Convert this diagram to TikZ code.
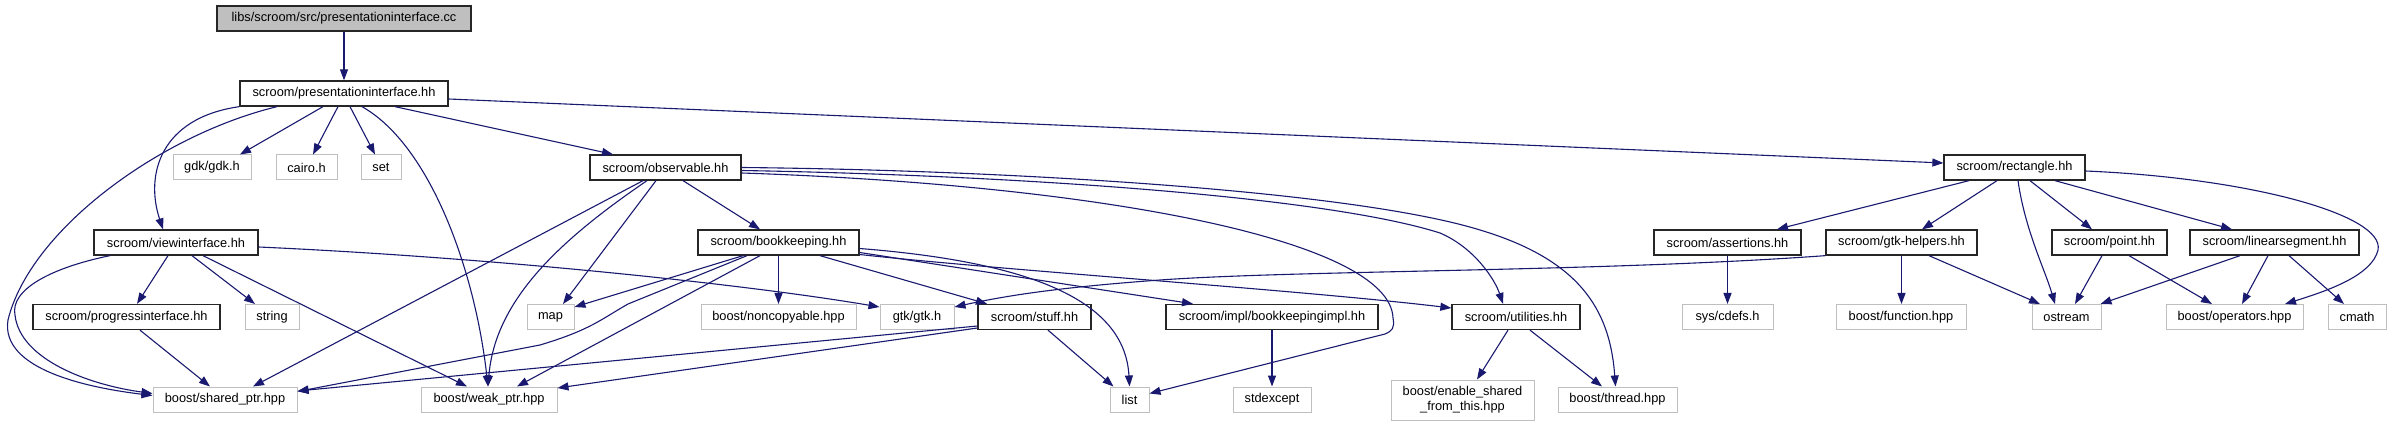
\documentclass[tikz,border=0pt]{standalone}
\usepackage{fontspec}
\setmainfont{Liberation Sans}
\usetikzlibrary{arrows.meta}
\definecolor{edgecol}{HTML}{191970}
\definecolor{extgray}{HTML}{BFBFBF}
\tikzset{
  box/.style={rectangle, inner sep=0pt, minimum height=25pt, align=center, font=\fontsize{12.8}{14.5}\selectfont},
  proj/.style={box, draw=black!85, line width=1.3pt},
  ext/.style={box, draw=extgray, line width=1pt},
  rootbox/.style={proj, fill=extgray},
  dep/.style={draw=edgecol, line width=1.1pt, -{Triangle[length=11pt,width=8pt]}}
}
\begin{document}
\begin{tikzpicture}[x=1pt,y=-1pt]
\useasboundingbox[fill=white] (0,0) rectangle (2392,427);
% row 0
\node[rootbox, minimum width=254pt] (root) at (344,18.5) {libs/scroom/src/presentationinterface.cc};
% row 1
\node[proj, minimum width=208pt] (pres) at (344,93.5) {scroom/presentationinterface.hh};
% row 2
\node[ext, minimum width=78pt] (gdk) at (212,167.5) {gdk/gdk.h};
\node[ext, minimum width=61pt] (cairo) at (306.5,167.5) {cairo.h};
\node[ext, minimum width=40pt] (set) at (381,167.5) {set};
\node[proj, minimum width=151pt] (obs) at (665.5,167.5) {scroom/observable.hh};
\node[proj, minimum width=141pt] (rect) at (2014.5,167.5) {scroom/rectangle.hh};
% row 3
\node[proj, minimum width=164pt] (view) at (176,242.5) {scroom/viewinterface.hh};
\node[proj, minimum width=161pt] (book) at (778.5,242.5) {scroom/bookkeeping.hh};
\node[proj, minimum width=147pt] (assert) at (1727.5,242.5) {scroom/assertions.hh};
\node[proj, minimum width=151pt] (gtkh) at (1901.5,242.5) {scroom/gtk-helpers.hh};
\node[proj, minimum width=115pt] (point) at (2109.5,242.5) {scroom/point.hh};
\node[proj, minimum width=169pt] (lin) at (2274.5,242.5) {scroom/linearsegment.hh};
% row 4
\node[proj, minimum width=187pt] (prog) at (126.5,317) {scroom/progressinterface.hh};
\node[ext, minimum width=54pt] (string) at (272,317) {string};
\node[ext, minimum width=47pt] (map) at (550.5,317) {map};
\node[ext, minimum width=155pt] (noncopy) at (778.5,317) {boost/noncopyable.hpp};
\node[ext, minimum width=74pt] (gtk) at (917,317) {gtk/gtk.h};
\node[proj, minimum width=113pt] (stuff) at (1034.5,317) {scroom/stuff.hh};
\node[proj, minimum width=212pt] (bkimpl) at (1272,317) {scroom/impl/bookkeepingimpl.hh};
\node[proj, minimum width=128pt] (util) at (1516,317) {scroom/utilities.hh};
\node[ext, minimum width=91pt] (cdefs) at (1727.5,317) {sys/cdefs.h};
\node[ext, minimum width=130pt] (func) at (1901,317) {boost/function.hpp};
\node[ext, minimum width=69pt] (ostream) at (2066.5,317) {ostream};
\node[ext, minimum width=137pt] (oper) at (2234.5,317) {boost/operators.hpp};
\node[ext, minimum width=58pt] (cmath) at (2357,317) {cmath};
% row 5
\node[ext, minimum width=144pt] (shared) at (225,399.5) {boost/shared\_ptr.hpp};
\node[ext, minimum width=136pt] (weak) at (489,399.5) {boost/weak\_ptr.hpp};
\node[ext, minimum width=39pt] (list) at (1129.5,399.5) {list};
\node[ext, minimum width=78pt] (stdexc) at (1272,399.5) {stdexcept};
\node[ext, minimum width=143pt, minimum height=40pt, font=\fontsize{12.8}{15}\selectfont] (enable) at (1462.5,400) {boost/enable\_shared\\\_from\_this.hpp};
\node[ext, minimum width=119pt] (thread) at (1617.5,399.5) {boost/thread.hpp};

% edges
\draw[dep] (root.south) -- (pres.north);
% presentationinterface.hh
\draw[dep] (pres.south west) .. controls (160,118) and (145,175) .. ([xshift=-13pt]view.north);
\draw[dep] ([xshift=-67pt]pres.south) .. controls (160,135) and (30,230) .. (8,320) .. controls (0,370) and (90,388) .. ([yshift=4pt]shared.west);
\draw[dep] ([xshift=-21pt]pres.south) -- ([xshift=28pt]gdk.north);
\draw[dep] ([xshift=-6pt]pres.south) -- ([xshift=6.5pt]cairo.north);
\draw[dep] ([xshift=6pt]pres.south) -- ([xshift=-6pt]set.north);
\draw[dep] ([xshift=18pt]pres.south) .. controls (430,145) and (475,270) .. ([xshift=-1pt]weak.north);
\draw[dep] ([xshift=51pt]pres.south) -- ([xshift=-52.5pt]obs.north);
\draw[dep] ([yshift=-5.5pt]pres.east) -- ([yshift=4.5pt]rect.west);
% viewinterface.hh
\draw[dep] ([xshift=-8pt]view.south) -- ([xshift=10.5pt]prog.north);
\draw[dep] ([xshift=16pt]view.south) -- ([xshift=-17pt]string.north);
\draw[dep] ([xshift=-66pt]view.south) .. controls (50,268) and (10,290) .. (15,315) .. controls (20,360) and (90,385) .. ([yshift=6pt]shared.west);
\draw[dep] ([xshift=27pt]view.south) -- ([xshift=-22pt]weak.north);
\draw[dep] ([yshift=-4.5pt]view.east) .. controls (500,258) and (750,285) .. ([yshift=10pt]gtk.west);
% progressinterface.hh
\draw[dep] ([xshift=13.5pt]prog.south) -- ([xshift=-15pt]shared.north);
% observable.hh
\draw[dep] ([xshift=-22.5pt]obs.south) -- ([xshift=28pt]shared.north);
\draw[dep] ([xshift=-18.5pt]obs.south) .. controls (560,240) and (495,300) .. ([xshift=-1pt]weak.north);
\draw[dep] ([xshift=-9.5pt]obs.south) -- ([xshift=12.5pt]map.north);
\draw[dep] ([xshift=17.5pt]obs.south) -- ([xshift=-18.5pt]book.north);
\draw[dep] ([yshift=-5.5pt]obs.east) .. controls (1100,185) and (1390,240) .. (1393,318) .. controls (1395,328) and (1392,331) .. (1385,334) -- ([yshift=6pt]list.east);
\draw[dep] ([yshift=-3pt]obs.east) .. controls (1000,175) and (1320,195) .. (1440,233) .. controls (1475,248) and (1495,280) .. ([xshift=-13pt]util.north);
\draw[dep] (obs.east) .. controls (1000,170) and (1350,190) .. (1480,230) .. controls (1580,260) and (1610,310) .. ([xshift=-2pt]thread.north);
% bookkeeping.hh
\draw[dep] ([xshift=-35.5pt]book.south) -- ([yshift=10pt]map.east);
\draw[dep] ([xshift=-31.5pt]book.south) -- (628,304) .. controls (600,320) and (590,330) .. (540,345) -- ([yshift=8pt]shared.east);
\draw[dep] ([xshift=-18.5pt]book.south) -- ([xshift=28pt]weak.north);
\draw[dep] (book.south) -- (noncopy.north);
\draw[dep] ([xshift=41.5pt]book.south) -- ([xshift=-47.5pt]stuff.north);
\draw[dep] ([yshift=-6pt]book.east) .. controls (1030,262) and (1125,300) .. (list.north);
\draw[dep] ([yshift=-10pt]book.east) -- ([xshift=-79pt]bkimpl.north);
\draw[dep] ([yshift=-12pt]book.east) .. controls (1000,270) and (1300,290) .. ([yshift=9pt]util.west);
% gtk-helpers.hh
\draw[dep] (gtkh.south west) .. controls (1600,272) and (1300,270) .. (1160,280) .. controls (1050,288) and (1000,297) .. ([yshift=10pt]gtk.east);
\draw[dep] (gtkh.south) -- (gtkh.south |- func.north);
\draw[dep] ([xshift=27.5pt]gtkh.south) -- ([xshift=-26.5pt]ostream.north);
% stuff.hh
\draw[dep] ([yshift=-9pt]stuff.west) -- ([yshift=8.5pt]shared.east);
\draw[dep] ([yshift=-11pt]stuff.west) -- ([yshift=11.5pt]weak.east);
\draw[dep] ([xshift=13.5pt]stuff.south) -- ([xshift=-16pt]list.north);
% bookkeepingimpl.hh
\draw[dep] (bkimpl.south) -- (stdexc.north);
% utilities.hh
\draw[dep] ([xshift=-8pt]util.south) -- ([xshift=14.5pt]enable.north);
\draw[dep] ([xshift=14pt]util.south) -- ([xshift=-15.5pt]thread.north);
% rectangle.hh
\draw[dep] ([xshift=-45.5pt]rect.south) -- ([xshift=49.5pt]assert.north);
\draw[dep] ([xshift=-17.5pt]rect.south) -- ([xshift=20.5pt]gtkh.north);
\draw[dep] ([xshift=3.5pt]rect.south) .. controls (2025,230) and (2045,270) .. ([xshift=-11.5pt]ostream.north);
\draw[dep] ([xshift=15.5pt]rect.south) -- ([xshift=-17.5pt]point.north);
\draw[dep] ([xshift=40.5pt]rect.south) -- ([xshift=-42.5pt]lin.north);
\draw[dep] ([yshift=-3.5pt]rect.east) .. controls (2250,178) and (2385,215) .. (2378,250) .. controls (2372,275) and (2330,290) .. ([xshift=50.5pt]oper.north);
% assertions.hh
\draw[dep] (assert.south) -- (cdefs.north);
% point.hh
\draw[dep] ([xshift=-7.5pt]point.south) -- ([xshift=8.5pt]ostream.north);
\draw[dep] ([xshift=19.5pt]point.south) -- ([xshift=-22.5pt]oper.north);
% linearsegment.hh
\draw[dep] ([xshift=-34.5pt]lin.south) -- ([xshift=34pt]ostream.north);
\draw[dep] ([xshift=-6.5pt]lin.south) -- ([xshift=7.5pt]oper.north);
\draw[dep] ([xshift=14.5pt]lin.south) -- ([xshift=-13pt]cmath.north);
\end{tikzpicture}
\end{document}
